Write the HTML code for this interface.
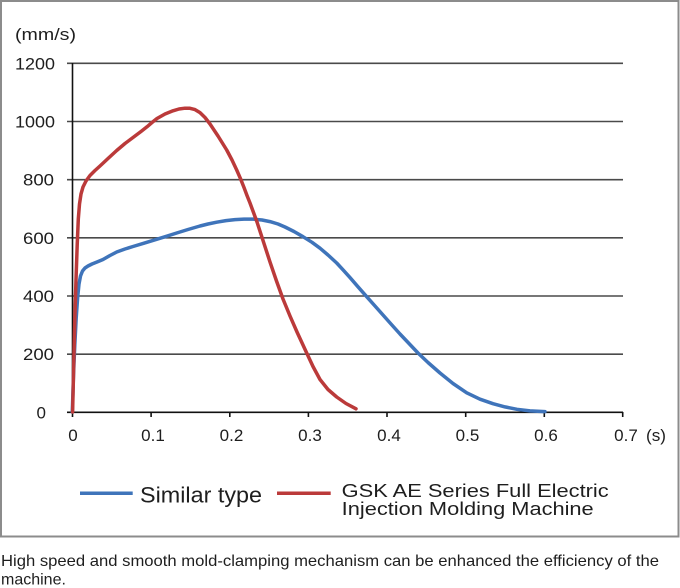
<!DOCTYPE html>
<html>
<head>
<meta charset="utf-8">
<style>
  html,body{margin:0;padding:0;background:#fff;}
  body{width:680px;height:588px;overflow:hidden;}
  svg{display:block;}
  text{font-family:"Liberation Sans",Arial,sans-serif;fill:#1e1e1e;}
</style>
</head>
<body>
<svg width="680" height="588" viewBox="0 0 680 588" xmlns="http://www.w3.org/2000/svg">
  <rect x="0" y="0" width="680" height="588" fill="#fff"/>
  <!-- frame -->
  <rect x="1" y="1" width="677.5" height="535.5" fill="none" stroke="#8c8c8c" stroke-width="2"/>

  <!-- gridlines -->
  <g stroke="#4a4a4a" stroke-width="1.6">
    <line x1="67" y1="63.3" x2="623" y2="63.3"/>
    <line x1="67" y1="121.5" x2="623" y2="121.5"/>
    <line x1="67" y1="179.7" x2="623" y2="179.7"/>
    <line x1="67" y1="237.8" x2="623" y2="237.8"/>
    <line x1="67" y1="296" x2="623" y2="296"/>
    <line x1="67" y1="354.2" x2="623" y2="354.2"/>
  </g>
  <!-- axes -->
  <g stroke="#111" stroke-width="1.6">
    <line x1="72.5" y1="63" x2="72.5" y2="412.3"/>
    <line x1="67" y1="412.3" x2="623" y2="412.3"/>
    <line x1="72.5" y1="412" x2="72.5" y2="417"/>
    <line x1="151.1" y1="412" x2="151.1" y2="417"/>
    <line x1="229.8" y1="412" x2="229.8" y2="417"/>
    <line x1="308.4" y1="412" x2="308.4" y2="417"/>
    <line x1="387.0" y1="412" x2="387.0" y2="417"/>
    <line x1="465.7" y1="412" x2="465.7" y2="417"/>
    <line x1="544.3" y1="412" x2="544.3" y2="417"/>
    <line x1="622.7" y1="412" x2="622.7" y2="417"/>
  </g>

  <!-- y labels -->
  <g font-size="17" text-anchor="end">
    <text x="55" y="69.3" textLength="40" lengthAdjust="spacingAndGlyphs">1200</text>
    <text x="55" y="127.5" textLength="40" lengthAdjust="spacingAndGlyphs">1000</text>
    <text x="54" y="185.7" textLength="31" lengthAdjust="spacingAndGlyphs">800</text>
    <text x="54" y="243.8" textLength="31" lengthAdjust="spacingAndGlyphs">600</text>
    <text x="54" y="302" textLength="31" lengthAdjust="spacingAndGlyphs">400</text>
    <text x="54" y="360.2" textLength="31" lengthAdjust="spacingAndGlyphs">200</text>
    <text x="46" y="418.3">0</text>
  </g>
  <text x="15" y="40" font-size="17" textLength="61" lengthAdjust="spacingAndGlyphs">(mm/s)</text>

  <!-- x labels -->
  <g font-size="17" text-anchor="middle">
    <text x="73" y="441">0</text>
    <text x="153" y="441">0.1</text>
    <text x="231.5" y="441">0.2</text>
    <text x="310" y="441">0.3</text>
    <text x="389" y="441">0.4</text>
    <text x="467.5" y="441">0.5</text>
    <text x="546" y="441">0.6</text>
    <text x="626" y="441">0.7</text>
  </g>
  <text x="646" y="441" font-size="17" textLength="20" lengthAdjust="spacingAndGlyphs">(s)</text>

  <!-- blue series -->
  <polyline fill="none" stroke="#3f74ba" stroke-width="3.5" stroke-linejoin="round" stroke-linecap="round"
    points="72.3,412 73.5,375 74.8,345 76.2,318 77.6,298 79,284 80.5,276 82.5,271 85,268 88,266 92,264 97,262 103,259.5 110,255.5 116.7,252 125,249 133,246.5 144,243.2 155,239.8 166,236.4 176.7,233 188,229.5 200,226 208,224 216.7,222.2 226,220.6 235,219.6 244,219.1 253,219.1 262,220 270,221.6 278,224 285,227 294,231.5 303,236.7 312,242.3 320,248.2 328,255 336.7,263 343,269.8 350,277.6 358,286.8 366.7,296.7 375,306 383,315 391,324 400,334 409,343.5 418,353 428,362.5 440,373 453,383.5 466.7,392.8 480,399.2 493,403.7 505,406.9 517,409.3 530,410.9 545,411.6"/>

  <!-- red series -->
  <polyline fill="none" stroke="#bb3a3a" stroke-width="3.5" stroke-linejoin="round" stroke-linecap="round"
    points="72.6,412 73.6,370 74.8,320 76,280 77.2,245 78.3,219 79.5,204 81,194 83,187 86,181 90,175.5 95,170.5 100,166 108,158.5 116.7,150.5 125,143.5 135,136 141,131.5 147,126.8 152,122.5 157,118.5 165,114 173,110.8 179,109 185,108.2 190,108.3 195,109.6 200,112.6 205,117.5 210,124 218,136 226.7,150 232,160 236.7,170 240.5,178.7 244,187.5 247,195.5 250,203 257,222 263.5,242 270,262 276.5,281 283,299 290,316 297,332 303,345 306.7,353 313,366.5 320,379.5 328,389.5 336.7,397 346,403.5 356,408.8"/>

  <!-- legend -->
  <line x1="80" y1="493.3" x2="132.7" y2="493.3" stroke="#3f74ba" stroke-width="3.5"/>
  <text x="140" y="502.7" font-size="22" textLength="122" lengthAdjust="spacingAndGlyphs">Similar type</text>
  <line x1="277" y1="493.3" x2="330.7" y2="493.3" stroke="#bb3a3a" stroke-width="3.5"/>
  <text x="341.7" y="497" font-size="18" textLength="267" lengthAdjust="spacingAndGlyphs">GSK AE Series Full Electric</text>
  <text x="341.7" y="515.2" font-size="18" textLength="252" lengthAdjust="spacingAndGlyphs">Injection Molding Machine</text>

  <!-- caption -->
  <text x="1" y="566" font-size="16" fill="#1a1a1a" textLength="658" lengthAdjust="spacingAndGlyphs">High speed and smooth mold-clamping mechanism can be enhanced the efficiency of the</text>
  <text x="1" y="584.5" font-size="16" fill="#1a1a1a">machine.</text>
</svg>
</body>
</html>
